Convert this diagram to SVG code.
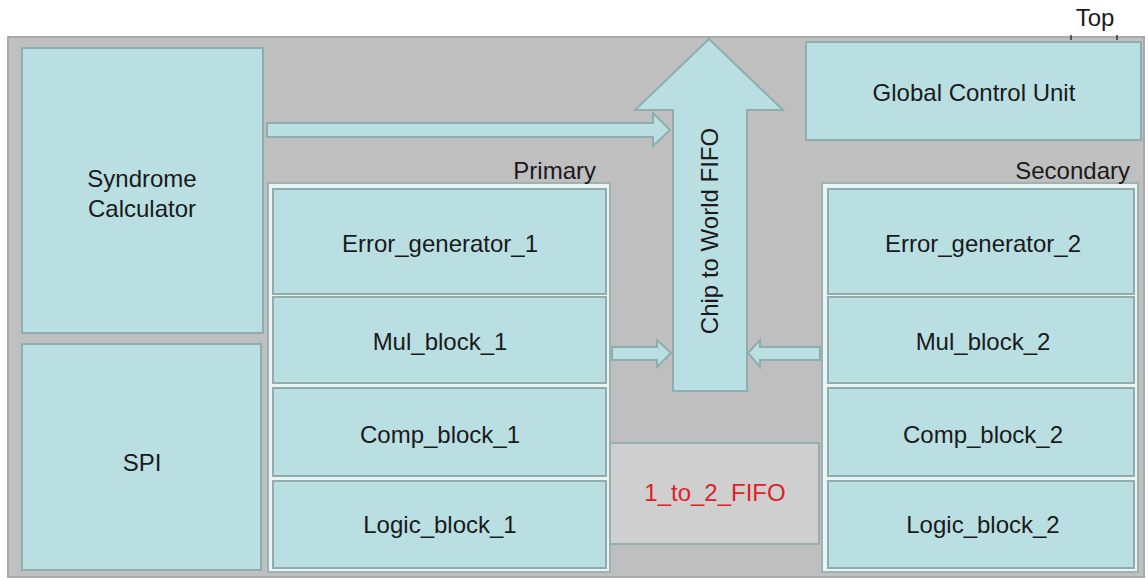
<svg xmlns="http://www.w3.org/2000/svg" width="1148" height="580" viewBox="0 0 1148 580">
<style>
.blk{fill:#b9dfe2;stroke:#8fadad;stroke-width:2}
.grp{fill:#e9f5f5;stroke:#9fb2b2;stroke-width:2}
.arr{fill:#b9dfe2;stroke:#8fadad;stroke-width:2;stroke-linejoin:miter}
text{font-family:"Liberation Sans",Arial,sans-serif;font-size:24px;fill:#1a1a1a;text-anchor:middle}
.lbl{text-anchor:end}
</style>
<rect width="1148" height="580" fill="#ffffff"/>
<g id="top">
<rect x="8" y="37" width="1136" height="540" fill="#c0bfc0" stroke="#a9abab" stroke-width="2"/>
<text x="1095" y="26" font-size="20">Top</text>
<line x1="1071" y1="35" x2="1071" y2="40" stroke="#333" stroke-width="1.5"/>
<line x1="1117" y1="35" x2="1117" y2="40" stroke="#333" stroke-width="1.5"/>
</g>
<g id="syndrome">
<rect class="blk" x="22" y="48" width="241" height="285"/>
<text x="142" y="187">Syndrome</text>
<text x="142" y="217">Calculator</text>
</g>
<g id="spi">
<rect class="blk" x="22" y="344" width="239" height="226"/>
<text x="142" y="471">SPI</text>
</g>
<g id="gcu">
<rect class="blk" x="806" y="42" width="335" height="98"/>
<text x="974" y="101">Global Control Unit</text>
</g>
<g id="primary">
<rect class="grp" x="268" y="183" width="342" height="389"/>
<text class="lbl" x="596" y="179">Primary</text>
<g id="err1"><rect class="blk" x="273" y="189" width="333" height="105"/><text x="440" y="252">Error_generator_1</text></g>
<g id="mul1"><rect class="blk" x="273" y="297" width="333" height="86"/><text x="440" y="350">Mul_block_1</text></g>
<g id="comp1"><rect class="blk" x="273" y="388" width="333" height="88"/><text x="440" y="443">Comp_block_1</text></g>
<g id="logic1"><rect class="blk" x="273" y="481" width="333" height="87"/><text x="440" y="533">Logic_block_1</text></g>
</g>
<g id="secondary">
<rect class="grp" x="822" y="183" width="316" height="389"/>
<text class="lbl" x="1130" y="179">Secondary</text>
<g id="err2"><rect class="blk" x="828" y="189" width="306" height="105"/><text x="983" y="252">Error_generator_2</text></g>
<g id="mul2"><rect class="blk" x="828" y="297" width="306" height="86"/><text x="983" y="350">Mul_block_2</text></g>
<g id="comp2"><rect class="blk" x="828" y="388" width="306" height="88"/><text x="983" y="443">Comp_block_2</text></g>
<g id="logic2"><rect class="blk" x="828" y="481" width="306" height="87"/><text x="983" y="533">Logic_block_2</text></g>
</g>
<g id="fifo12">
<rect x="610" y="443" width="209" height="101" fill="#cfcfcf" stroke="#9aacac" stroke-width="2"/>
<text x="715" y="501" style="fill:#e0202a" font-size="19">1_to_2_FIFO</text>
</g>
<g id="c2w">
<polygon class="arr" points="709,39 783,110 747,110 747,391 673,391 673,110 635,110"/>
<text transform="translate(718,231) rotate(-90)">Chip to World FIFO</text>
</g>
<g id="connectors">
<polygon class="arr" points="267,123 653,123 653,113 670,130 653,146 653,137 267,137"/>
<polygon class="arr" points="612,347 657,347 657,340 671,353 657,367 657,360 612,360"/>
<polygon class="arr" points="820,347 760,347 760,340 748,353 760,367 760,360 820,360"/>
</g>
</svg>
